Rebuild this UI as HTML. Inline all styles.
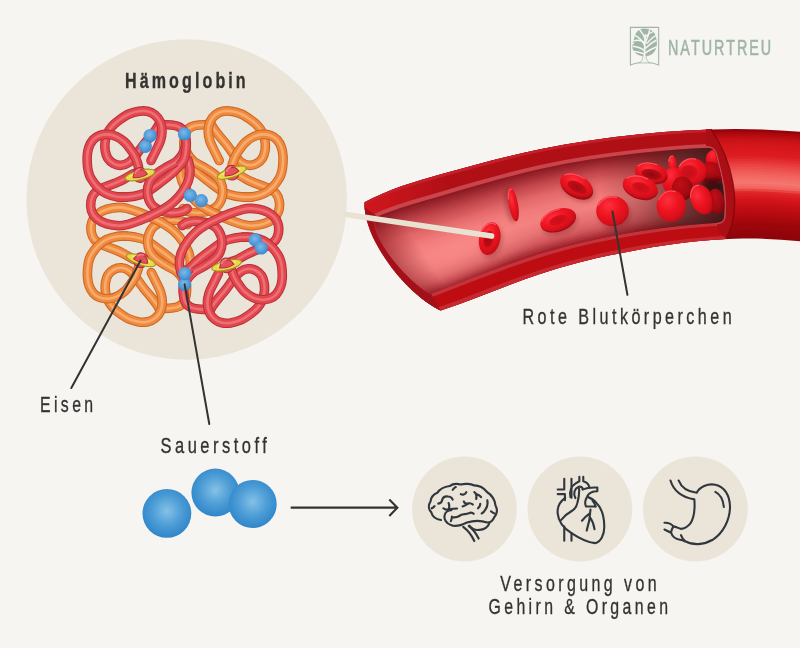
<!DOCTYPE html>
<html lang="de">
<head>
<meta charset="utf-8">
<title>Hämoglobin</title>
<style>
html,body{margin:0;padding:0;background:#f7f5f1;}
body{width:800px;height:648px;overflow:hidden;font-family:"Liberation Sans",sans-serif;}
svg{display:block;}
text{font-family:"Liberation Sans",sans-serif;fill:#333;}
</style>
</head>
<body>
<svg width="800" height="648" viewBox="0 0 800 648">
<defs>
<radialGradient id="gBlue" cx="0.5" cy="0.45" r="0.55">
<stop offset="0" stop-color="#86c1e6"/>
<stop offset="0.55" stop-color="#4d9dd6"/>
<stop offset="1" stop-color="#2f86c9"/>
</radialGradient>
</defs>
<rect width="800" height="648" fill="#f7f5f1"/>

<!-- big circle -->
<circle cx="186.7" cy="199.5" r="160.3" fill="#ebe4d9"/>

<!-- VESSEL -->
<!--VESSEL-START-->
<defs>
<clipPath id="cVes"><path d="M364.5 207.0C366.9 244.6 407.3 294.5 440.5 310.6L441 400L830 400L830 0L364 0Z"/></clipPath>
<clipPath id="cCut"><path d="M364.5 207.0C366.9 244.6 407.3 294.5 440.5 310.6L441 400L726.2 238.6C743.8 204.4 731.5 159.5 711.0 129.2L711 0L364 0Z"/></clipPath>
<clipPath id="cLumX"><path d="M376.0 215.5C368.5 238.2 412.6 285.5 431.0 293.6L431 400L717 400L717 223Q724 222.3 724.2 216.0C726.4 192.6 721.3 177.2 716.0 155.0Q713.5 147 706 147.6L706 0L376 0Z"/></clipPath>
<clipPath id="cLumY"><path d="M340.0 236.2C373.3 214.3 406.7 205.7 440.0 196.2C473.3 186.8 506.7 176.5 540.0 168.9C573.3 161.4 606.7 156.7 640.0 153.0C671.7 149.6 703.3 147.2 735.0 147.1C766.7 147.1 798.3 149.5 830.0 151.0L830.0 222.0C798.3 221.1 766.7 220.6 735.0 221.9C703.3 223.2 671.7 226.2 640.0 231.2C606.7 236.4 573.3 243.6 540.0 253.8C506.7 264.1 473.3 277.3 440.0 290.2C406.7 303.0 373.3 315.5 340.0 328.0Z"/></clipPath>
<linearGradient id="gTun" gradientUnits="userSpaceOnUse" x1="600" y1="0" x2="726" y2="0"><stop offset="0" stop-color="#4a1316" stop-opacity="0"/><stop offset="0.35" stop-color="#4a1316" stop-opacity="0.3"/><stop offset="0.65" stop-color="#48201f" stop-opacity="0.7"/><stop offset="1" stop-color="#3a1315" stop-opacity="0.93"/></linearGradient>
<linearGradient id="gEndSh" gradientUnits="userSpaceOnUse" x1="383" y1="250" x2="410" y2="232"><stop offset="0" stop-color="#7a0e15" stop-opacity="0.5"/><stop offset="1" stop-color="#7a0e15" stop-opacity="0"/></linearGradient>
<radialGradient id="gLumHi" cx="0.5" cy="0.5" r="0.5"><stop offset="0" stop-color="#ff918d" stop-opacity="0.6"/><stop offset="1" stop-color="#ff918d" stop-opacity="0"/></radialGradient>
<linearGradient id="gFaceT" gradientUnits="userSpaceOnUse" x1="366" y1="0" x2="450" y2="0"><stop offset="0" stop-color="#d0161d"/><stop offset="1" stop-color="#b00f16"/></linearGradient>
</defs>
<g clip-path="url(#cVes)">
<path d="M340.0 217.4C373.3 193.7 406.7 184.0 440.0 174.6C473.3 165.2 506.7 156.2 540.0 149.3C573.3 142.4 606.7 137.7 640.0 134.3C671.7 131.1 703.3 129.0 735.0 129.0C766.7 128.9 798.3 131.0 830.0 135.2L830.0 139.2C798.3 135.0 766.7 132.9 735.0 133.0C703.3 133.0 671.7 135.2 640.0 138.5C606.7 142.0 573.3 146.8 540.0 153.9C506.7 160.9 473.3 170.1 440.0 179.5C406.7 189.0 373.3 198.6 340.0 221.9Z" fill="#95030b"/>
<path d="M340.0 220.3C373.3 196.8 406.7 187.1 440.0 177.7C473.3 168.3 506.7 159.1 540.0 152.2C573.3 145.2 606.7 140.4 640.0 136.9C671.7 133.6 703.3 131.5 735.0 131.5C766.7 131.4 798.3 133.5 830.0 137.7L830.0 141.8C798.3 137.4 766.7 135.4 735.0 135.5C703.3 135.5 671.7 137.7 640.0 141.1C606.7 144.7 573.3 149.6 540.0 156.7C506.7 163.8 473.3 173.2 440.0 182.6C406.7 192.1 373.3 201.7 340.0 224.7Z" fill="#a8080e"/>
<path d="M340.0 223.1C373.3 199.8 406.7 190.2 440.0 180.8C473.3 171.3 506.7 162.1 540.0 155.0C573.3 147.9 606.7 143.1 640.0 139.5C671.7 136.2 703.3 134.0 735.0 134.0C766.7 133.9 798.3 136.0 830.0 140.2L830.0 144.3C798.3 139.9 766.7 137.9 735.0 137.9C703.3 138.0 671.7 140.3 640.0 143.7C606.7 147.4 573.3 152.3 540.0 159.5C506.7 166.7 473.3 176.2 440.0 185.7C406.7 195.2 373.3 204.8 340.0 227.5Z" fill="#b50c12"/>
<path d="M340.0 225.9C373.3 202.9 406.7 193.4 440.0 183.9C473.3 174.4 506.7 165.0 540.0 157.8C573.3 150.7 606.7 145.8 640.0 142.2C671.7 138.8 703.3 136.5 735.0 136.5C766.7 136.4 798.3 138.4 830.0 142.8L830.0 146.8C798.3 142.4 766.7 140.3 735.0 140.4C703.3 140.6 671.7 142.9 640.0 146.3C606.7 150.0 573.3 155.0 540.0 162.4C506.7 169.7 473.3 179.3 440.0 188.8C406.7 198.4 373.3 207.8 340.0 230.3Z" fill="#c01015"/>
<path d="M340.0 228.7C373.3 206.0 406.7 196.5 440.0 187.0C473.3 177.5 506.7 167.9 540.0 160.7C573.3 153.4 606.7 148.4 640.0 144.8C671.7 141.3 703.3 139.0 735.0 138.9C766.7 138.8 798.3 140.9 830.0 145.3L830.0 149.3C798.3 144.9 766.7 142.8 735.0 142.9C703.3 143.1 671.7 145.4 640.0 149.0C606.7 152.7 573.3 157.8 540.0 165.2C506.7 172.6 473.3 182.4 440.0 191.9C406.7 201.5 373.3 210.9 340.0 233.1Z" fill="#c81318"/>
<path d="M340.0 231.5C373.3 209.1 406.7 199.6 440.0 190.1C473.3 180.5 506.7 170.8 540.0 163.5C573.3 156.1 606.7 151.1 640.0 147.4C671.7 143.9 703.3 141.6 735.0 141.4C766.7 141.3 798.3 143.4 830.0 147.8L830.0 151.8C798.3 147.4 766.7 145.3 735.0 145.4C703.3 145.6 671.7 148.0 640.0 151.6C606.7 155.4 573.3 160.5 540.0 168.0C506.7 175.5 473.3 185.4 440.0 195.0C406.7 204.6 373.3 214.0 340.0 235.9Z" fill="#d0151a"/>
<path d="M340.0 234.3C373.3 212.1 406.7 202.8 440.0 193.2C473.3 183.6 506.7 173.8 540.0 166.3C573.3 158.9 606.7 153.8 640.0 150.0C671.7 146.4 703.3 144.1 735.0 143.9C766.7 143.8 798.3 145.9 830.0 150.3L830.0 154.3C798.3 149.8 766.7 147.8 735.0 147.9C703.3 148.1 671.7 150.5 640.0 154.2C606.7 158.0 573.3 163.2 540.0 170.9C506.7 178.5 473.3 188.5 440.0 198.1C406.7 207.8 373.3 217.1 340.0 238.7Z" fill="#d4171c"/>
<path d="M340.0 237.1C373.3 215.2 406.7 205.9 440.0 196.3C473.3 186.6 506.7 176.7 540.0 169.2C573.3 161.6 606.7 156.4 640.0 152.6C671.7 149.0 703.3 146.6 735.0 146.4C766.7 146.3 798.3 148.4 830.0 152.8L830.0 156.8C798.3 152.3 766.7 150.2 735.0 150.4C703.3 150.6 671.7 153.1 640.0 156.8C606.7 160.7 573.3 166.0 540.0 173.7C506.7 181.4 473.3 191.5 440.0 201.2C406.7 210.9 373.3 220.1 340.0 241.5Z" fill="#d6181d"/>
<path d="M340.0 239.9C373.3 218.3 406.7 209.0 440.0 199.4C473.3 189.7 506.7 179.6 540.0 172.0C573.3 164.3 606.7 159.1 640.0 155.2C671.7 151.6 703.3 149.1 735.0 148.9C766.7 148.8 798.3 150.8 830.0 155.3L830.0 159.3C798.3 154.8 766.7 152.7 735.0 152.9C703.3 153.2 671.7 155.7 640.0 159.4C606.7 163.4 573.3 168.7 540.0 176.5C506.7 184.3 473.3 194.6 440.0 204.3C406.7 214.0 373.3 223.2 340.0 244.3Z" fill="#d8191e"/>
<path d="M340.0 242.7C373.3 221.4 406.7 212.2 440.0 202.5C473.3 192.8 506.7 182.6 540.0 174.8C573.3 167.1 606.7 161.8 640.0 157.9C671.7 154.1 703.3 151.6 735.0 151.4C766.7 151.2 798.3 153.3 830.0 157.8L830.0 161.8C798.3 157.3 766.7 155.2 735.0 155.4C703.3 155.7 671.7 158.2 640.0 162.0C606.7 166.1 573.3 171.5 540.0 179.4C506.7 187.3 473.3 197.6 440.0 207.4C406.7 217.2 373.3 226.3 340.0 247.1Z" fill="#da1b1f"/>
<path d="M340.0 245.5C373.3 224.5 406.7 215.3 440.0 205.6C473.3 195.8 506.7 185.5 540.0 177.7C573.3 169.8 606.7 164.5 640.0 160.5C671.7 156.7 703.3 154.2 735.0 153.9C766.7 153.7 798.3 155.8 830.0 160.3L830.0 164.3C798.3 159.8 766.7 157.7 735.0 157.9C703.3 158.2 671.7 160.8 640.0 164.7C606.7 168.7 573.3 174.2 540.0 182.2C506.7 190.2 473.3 200.7 440.0 210.5C406.7 220.3 373.3 229.4 340.0 249.9Z" fill="#dc1c20"/>
<path d="M340.0 248.3C373.3 227.5 406.7 218.4 440.0 208.7C473.3 198.9 506.7 188.4 540.0 180.5C573.3 172.6 606.7 167.1 640.0 163.1C671.7 159.3 703.3 156.7 735.0 156.4C766.7 156.2 798.3 158.3 830.0 162.8L830.0 166.8C798.3 162.2 766.7 160.1 735.0 160.4C703.3 160.7 671.7 163.4 640.0 167.3C606.7 171.4 573.3 176.9 540.0 185.0C506.7 193.1 473.3 203.8 440.0 213.6C406.7 223.4 373.3 232.5 340.0 252.7Z" fill="#df2528"/>
<path d="M340.0 251.1C373.3 230.6 406.7 221.6 440.0 211.7C473.3 201.9 506.7 191.4 540.0 183.3C573.3 175.3 606.7 169.8 640.0 165.7C671.7 161.8 703.3 159.2 735.0 158.9C766.7 158.7 798.3 160.8 830.0 165.3L830.0 169.4C798.3 164.7 766.7 162.6 735.0 162.9C703.3 163.2 671.7 165.9 640.0 169.9C606.7 174.1 573.3 179.7 540.0 187.9C506.7 196.0 473.3 206.8 440.0 216.7C406.7 226.6 373.3 235.5 340.0 255.6Z" fill="#e32f31"/>
<path d="M340.0 253.9C373.3 233.7 406.7 224.7 440.0 214.8C473.3 205.0 506.7 194.3 540.0 186.2C573.3 178.0 606.7 172.5 640.0 168.3C671.7 164.4 703.3 161.7 735.0 161.4C766.7 161.1 798.3 163.2 830.0 167.8L830.0 171.9C798.3 167.2 766.7 165.1 735.0 165.4C703.3 165.7 671.7 168.5 640.0 172.5C606.7 176.7 573.3 182.4 540.0 190.7C506.7 199.0 473.3 209.9 440.0 219.8C406.7 229.7 373.3 238.6 340.0 258.4Z" fill="#e7393a"/>
<path d="M340.0 256.7C373.3 236.8 406.7 227.8 440.0 217.9C473.3 208.0 506.7 197.2 540.0 189.0C573.3 180.8 606.7 175.1 640.0 170.9C671.7 166.9 703.3 164.2 735.0 163.9C766.7 163.6 798.3 165.7 830.0 170.4L830.0 174.4C798.3 169.7 766.7 167.6 735.0 167.9C703.3 168.3 671.7 171.1 640.0 175.1C606.7 179.4 573.3 185.1 540.0 193.5C506.7 201.9 473.3 212.9 440.0 222.9C406.7 232.8 373.3 241.7 340.0 261.2Z" fill="#ea4342"/>
<path d="M340.0 259.5C373.3 239.8 406.7 231.0 440.0 221.0C473.3 211.1 506.7 200.1 540.0 191.8C573.3 183.5 606.7 177.8 640.0 173.6C671.7 169.5 703.3 166.7 735.0 166.4C766.7 166.1 798.3 168.2 830.0 172.9L830.0 176.9C798.3 172.2 766.7 170.1 735.0 170.4C703.3 170.8 671.7 173.6 640.0 177.7C606.7 182.1 573.3 187.9 540.0 196.4C506.7 204.8 473.3 216.0 440.0 226.0C406.7 236.0 373.3 244.8 340.0 264.0Z" fill="#ec4c4a"/>
<path d="M340.0 262.3C373.3 242.9 406.7 234.1 440.0 224.1C473.3 214.2 506.7 203.1 540.0 194.7C573.3 186.2 606.7 180.5 640.0 176.2C671.7 172.1 703.3 169.3 735.0 168.9C766.7 168.6 798.3 170.7 830.0 175.4L830.0 179.4C798.3 174.6 766.7 172.5 735.0 172.9C703.3 173.3 671.7 176.2 640.0 180.4C606.7 184.8 573.3 190.6 540.0 199.2C506.7 207.8 473.3 219.1 440.0 229.1C406.7 239.1 373.3 247.8 340.0 266.8Z" fill="#ee5552"/>
<path d="M340.0 265.1C373.3 246.0 406.7 237.2 440.0 227.2C473.3 217.2 506.7 206.0 540.0 197.5C573.3 189.0 606.7 183.2 640.0 178.8C671.7 174.6 703.3 171.8 735.0 171.4C766.7 171.0 798.3 173.1 830.0 177.9L830.0 181.9C798.3 177.1 766.7 175.0 735.0 175.4C703.3 175.8 671.7 178.7 640.0 183.0C606.7 187.4 573.3 193.4 540.0 202.0C506.7 210.7 473.3 222.1 440.0 232.2C406.7 242.2 373.3 250.9 340.0 269.6Z" fill="#f05e59"/>
<path d="M340.0 267.9C373.3 249.1 406.7 240.4 440.0 230.3C473.3 220.3 506.7 208.9 540.0 200.3C573.3 191.7 606.7 185.8 640.0 181.4C671.7 177.2 703.3 174.3 735.0 173.9C766.7 173.5 798.3 175.6 830.0 180.4L830.0 184.4C798.3 179.6 766.7 177.5 735.0 177.9C703.3 178.3 671.7 181.3 640.0 185.6C606.7 190.1 573.3 196.1 540.0 204.9C506.7 213.6 473.3 225.2 440.0 235.3C406.7 245.4 373.3 254.0 340.0 272.4Z" fill="#f1645f"/>
<path d="M340.0 270.7C373.3 252.2 406.7 243.5 440.0 233.4C473.3 223.3 506.7 211.9 540.0 203.2C573.3 194.4 606.7 188.5 640.0 184.0C671.7 179.8 703.3 176.8 735.0 176.4C766.7 176.0 798.3 178.1 830.0 182.9L830.0 186.9C798.3 182.1 766.7 180.0 735.0 180.4C703.3 180.9 671.7 183.9 640.0 188.2C606.7 192.8 573.3 198.8 540.0 207.7C506.7 216.6 473.3 228.2 440.0 238.4C406.7 248.5 373.3 257.1 340.0 275.2Z" fill="#f26b64"/>
<path d="M340.0 273.5C373.3 255.2 406.7 246.6 440.0 236.5C473.3 226.4 506.7 214.8 540.0 206.0C573.3 197.2 606.7 191.2 640.0 186.6C671.7 182.3 703.3 179.3 735.0 178.9C766.7 178.5 798.3 180.6 830.0 185.4L830.0 189.4C798.3 184.6 766.7 182.4 735.0 182.9C703.3 183.4 671.7 186.4 640.0 190.8C606.7 195.5 573.3 201.6 540.0 210.5C506.7 219.5 473.3 231.3 440.0 241.5C406.7 251.6 373.3 260.2 340.0 278.0Z" fill="#f37169"/>
<path d="M340.0 276.3C373.3 258.3 406.7 249.8 440.0 239.6C473.3 229.5 506.7 217.7 540.0 208.8C573.3 199.9 606.7 193.9 640.0 189.3C671.7 184.9 703.3 181.9 735.0 181.4C766.7 180.9 798.3 183.1 830.0 187.9L830.0 191.9C798.3 187.0 766.7 184.9 735.0 185.4C703.3 185.9 671.7 189.0 640.0 193.4C606.7 198.1 573.3 204.3 540.0 213.4C506.7 222.4 473.3 234.4 440.0 244.6C406.7 254.8 373.3 263.2 340.0 280.8Z" fill="#f4776f"/>
<path d="M340.0 279.1C373.3 261.4 406.7 252.9 440.0 242.7C473.3 232.5 506.7 220.7 540.0 211.7C573.3 202.7 606.7 196.5 640.0 191.9C671.7 187.5 703.3 184.4 735.0 183.9C766.7 183.4 798.3 185.5 830.0 190.4L830.0 194.4C798.3 189.5 766.7 187.4 735.0 187.9C703.3 188.4 671.7 191.6 640.0 196.1C606.7 200.8 573.3 207.0 540.0 216.2C506.7 225.3 473.3 237.4 440.0 247.7C406.7 257.9 373.3 266.3 340.0 283.6Z" fill="#f36e67"/>
<path d="M340.0 281.9C373.3 264.5 406.7 256.0 440.0 245.8C473.3 235.6 506.7 223.6 540.0 214.5C573.3 205.4 606.7 199.2 640.0 194.5C671.7 190.0 703.3 186.9 735.0 186.4C766.7 185.9 798.3 188.0 830.0 192.9L830.0 197.0C798.3 192.0 766.7 189.9 735.0 190.4C703.3 190.9 671.7 194.1 640.0 198.7C606.7 203.5 573.3 209.8 540.0 219.0C506.7 228.3 473.3 240.5 440.0 250.8C406.7 261.0 373.3 269.4 340.0 286.4Z" fill="#f1645e"/>
<path d="M340.0 284.7C373.3 267.5 406.7 259.2 440.0 248.9C473.3 238.6 506.7 226.5 540.0 217.3C573.3 208.1 606.7 201.9 640.0 197.1C671.7 192.6 703.3 189.4 735.0 188.9C766.7 188.4 798.3 190.5 830.0 195.5L830.0 199.5C798.3 194.5 766.7 192.3 735.0 192.9C703.3 193.4 671.7 196.7 640.0 201.3C606.7 206.1 573.3 212.5 540.0 221.9C506.7 231.2 473.3 243.5 440.0 253.9C406.7 264.2 373.3 272.5 340.0 289.2Z" fill="#ea4543"/>
<path d="M340.0 287.5C373.3 270.6 406.7 262.3 440.0 252.0C473.3 241.7 506.7 229.4 540.0 220.2C573.3 210.9 606.7 204.5 640.0 199.7C671.7 195.1 703.3 191.9 735.0 191.4C766.7 190.9 798.3 193.0 830.0 198.0L830.0 202.0C798.3 196.9 766.7 194.8 735.0 195.4C703.3 196.0 671.7 199.2 640.0 203.9C606.7 208.8 573.3 215.2 540.0 224.7C506.7 234.1 473.3 246.6 440.0 256.9C406.7 267.3 373.3 275.5 340.0 292.0Z" fill="#e12528"/>
<path d="M340.0 290.3C373.3 273.7 406.7 265.4 440.0 255.1C473.3 244.8 506.7 232.4 540.0 223.0C573.3 213.6 606.7 207.2 640.0 202.3C671.7 197.7 703.3 194.5 735.0 193.9C766.7 193.3 798.3 195.5 830.0 200.5L830.0 204.5C798.3 199.4 766.7 197.3 735.0 197.9C703.3 198.5 671.7 201.8 640.0 206.5C606.7 211.5 573.3 218.0 540.0 227.5C506.7 237.1 473.3 249.7 440.0 260.0C406.7 270.4 373.3 278.6 340.0 294.8Z" fill="#dc1f23"/>
<path d="M340.0 293.1C373.3 276.8 406.7 268.6 440.0 258.2C473.3 247.8 506.7 235.3 540.0 225.8C573.3 216.3 606.7 209.9 640.0 205.0C671.7 200.3 703.3 197.0 735.0 196.4C766.7 195.8 798.3 197.9 830.0 203.0L830.0 207.0C798.3 201.9 766.7 199.8 735.0 200.4C703.3 201.0 671.7 204.4 640.0 209.1C606.7 214.2 573.3 220.7 540.0 230.4C506.7 240.0 473.3 252.7 440.0 263.1C406.7 273.6 373.3 281.7 340.0 297.6Z" fill="#d7191e"/>
<path d="M340.0 295.9C373.3 279.9 406.7 271.7 440.0 261.3C473.3 250.9 506.7 238.2 540.0 228.7C573.3 219.1 606.7 212.6 640.0 207.6C671.7 202.8 703.3 199.5 735.0 198.9C766.7 198.3 798.3 200.4 830.0 205.5L830.0 209.5C798.3 204.4 766.7 202.2 735.0 202.9C703.3 203.5 671.7 206.9 640.0 211.8C606.7 216.8 573.3 223.5 540.0 233.2C506.7 242.9 473.3 255.8 440.0 266.2C406.7 276.7 373.3 284.8 340.0 300.4Z" fill="#d2141a"/>
<path d="M340.0 298.7C373.3 282.9 406.7 274.8 440.0 264.4C473.3 253.9 506.7 241.2 540.0 231.5C573.3 221.8 606.7 215.2 640.0 210.2C671.7 205.4 703.3 202.0 735.0 201.4C766.7 200.8 798.3 202.9 830.0 208.0L830.0 212.0C798.3 206.9 766.7 204.7 735.0 205.4C703.3 206.0 671.7 209.5 640.0 214.4C606.7 219.5 573.3 226.2 540.0 236.0C506.7 245.9 473.3 258.8 440.0 269.3C406.7 279.8 373.3 287.9 340.0 303.2Z" fill="#cd1218"/>
<path d="M340.0 301.5C373.3 286.0 406.7 278.0 440.0 267.5C473.3 257.0 506.7 244.1 540.0 234.3C573.3 224.5 606.7 217.9 640.0 212.8C671.7 208.0 703.3 204.5 735.0 203.9C766.7 203.2 798.3 205.4 830.0 210.5L830.0 214.5C798.3 209.3 766.7 207.2 735.0 207.9C703.3 208.6 671.7 212.1 640.0 217.0C606.7 222.2 573.3 228.9 540.0 238.9C506.7 248.8 473.3 261.9 440.0 272.4C406.7 283.0 373.3 290.9 340.0 306.0Z" fill="#c71016"/>
<path d="M340.0 304.3C373.3 289.1 406.7 281.1 440.0 270.6C473.3 260.1 506.7 247.0 540.0 237.2C573.3 227.3 606.7 220.6 640.0 215.4C671.7 210.5 703.3 207.0 735.0 206.4C766.7 205.7 798.3 207.9 830.0 213.0L830.0 217.0C798.3 211.8 766.7 209.7 735.0 210.4C703.3 211.1 671.7 214.6 640.0 219.6C606.7 224.8 573.3 231.7 540.0 241.7C506.7 251.7 473.3 264.9 440.0 275.5C406.7 286.1 373.3 294.0 340.0 308.8Z" fill="#c20e14"/>
<path d="M340.0 307.1C373.3 292.2 406.7 284.2 440.0 273.7C473.3 263.1 506.7 250.0 540.0 240.0C573.3 230.0 606.7 223.2 640.0 218.0C671.7 213.1 703.3 209.6 735.0 208.9C766.7 208.2 798.3 210.3 830.0 215.5L830.0 219.5C798.3 214.3 766.7 212.1 735.0 212.9C703.3 213.6 671.7 217.2 640.0 222.2C606.7 227.5 573.3 234.4 540.0 244.5C506.7 254.6 473.3 268.0 440.0 278.6C406.7 289.2 373.3 297.1 340.0 311.6Z" fill="#bd0c12"/>
<path d="M340.0 309.9C373.3 295.2 406.7 287.4 440.0 276.8C473.3 266.2 506.7 252.9 540.0 242.8C573.3 232.8 606.7 225.9 640.0 220.7C671.7 215.7 703.3 212.1 735.0 211.4C766.7 210.7 798.3 212.8 830.0 218.0L830.0 222.1C798.3 216.8 766.7 214.6 735.0 215.4C703.3 216.1 671.7 219.8 640.0 224.8C606.7 230.2 573.3 237.1 540.0 247.4C506.7 257.6 473.3 271.1 440.0 281.7C406.7 292.4 373.3 300.2 340.0 314.4Z" fill="#b70b10"/>
<path d="M340.0 312.7C373.3 298.3 406.7 290.5 440.0 279.9C473.3 269.2 506.7 255.8 540.0 245.7C573.3 235.5 606.7 228.6 640.0 223.3C671.7 218.2 703.3 214.6 735.0 213.9C766.7 213.1 798.3 215.3 830.0 220.5L830.0 224.6C798.3 219.3 766.7 217.1 735.0 217.9C703.3 218.6 671.7 222.3 640.0 227.5C606.7 232.9 573.3 239.9 540.0 250.2C506.7 260.5 473.3 274.1 440.0 284.8C406.7 295.5 373.3 303.2 340.0 317.2Z" fill="#b10a0f"/>
<path d="M340.0 315.5C373.3 301.4 406.7 293.6 440.0 283.0C473.3 272.3 506.7 258.7 540.0 248.5C573.3 238.2 606.7 231.3 640.0 225.9C671.7 220.8 703.3 217.1 735.0 216.4C766.7 215.6 798.3 217.8 830.0 223.1L830.0 227.1C798.3 221.7 766.7 219.6 735.0 220.4C703.3 221.1 671.7 224.9 640.0 230.1C606.7 235.5 573.3 242.6 540.0 253.0C506.7 263.4 473.3 277.2 440.0 287.9C406.7 298.6 373.3 306.3 340.0 320.0Z" fill="#ac090e"/>
<path d="M340.0 318.3C373.3 304.5 406.7 296.7 440.0 286.0C473.3 275.3 506.7 261.7 540.0 251.3C573.3 241.0 606.7 233.9 640.0 228.5C671.7 223.3 703.3 219.6 735.0 218.9C766.7 218.1 798.3 220.3 830.0 225.6L830.0 229.6C798.3 224.2 766.7 222.1 735.0 222.9C703.3 223.7 671.7 227.4 640.0 232.7C606.7 238.2 573.3 245.3 540.0 255.9C506.7 266.4 473.3 280.2 440.0 291.0C406.7 301.8 373.3 309.4 340.0 322.8Z" fill="#a6080d"/>
<path d="M340.0 321.1C373.3 307.6 406.7 299.9 440.0 289.1C473.3 278.4 506.7 264.6 540.0 254.2C573.3 243.7 606.7 236.6 640.0 231.1C671.7 225.9 703.3 222.2 735.0 221.4C766.7 220.6 798.3 222.7 830.0 228.1L830.0 232.1C798.3 226.7 766.7 224.5 735.0 225.4C703.3 226.2 671.7 230.0 640.0 235.3C606.7 240.9 573.3 248.1 540.0 258.7C506.7 269.3 473.3 283.3 440.0 294.1C406.7 304.9 373.3 312.5 340.0 325.6Z" fill="#a0070c"/>
<path d="M340.0 323.9C373.3 310.6 406.7 303.0 440.0 292.2C473.3 281.5 506.7 267.5 540.0 257.0C573.3 246.4 606.7 239.3 640.0 233.7C671.7 228.5 703.3 224.7 735.0 223.9C766.7 223.0 798.3 225.2 830.0 230.6L830.0 234.6C798.3 229.2 766.7 227.0 735.0 227.9C703.3 228.7 671.7 232.6 640.0 237.9C606.7 243.6 573.3 250.8 540.0 261.5C506.7 272.2 473.3 286.4 440.0 297.2C406.7 308.0 373.3 315.6 340.0 328.4Z" fill="#9b060b"/>
<path d="M340.0 326.7C373.3 313.7 406.7 306.1 440.0 295.3C473.3 284.5 506.7 270.5 540.0 259.8C573.3 249.2 606.7 241.9 640.0 236.4C671.7 231.0 703.3 227.2 735.0 226.4C766.7 225.5 798.3 227.7 830.0 233.1L830.0 237.1C798.3 231.7 766.7 229.5 735.0 230.4C703.3 231.2 671.7 235.1 640.0 240.5C606.7 246.2 573.3 253.6 540.0 264.4C506.7 275.2 473.3 289.4 440.0 300.3C406.7 311.2 373.3 318.6 340.0 331.2Z" fill="#99060b"/>
<path d="M340.0 329.5C373.3 316.8 406.7 309.3 440.0 298.4C473.3 287.6 506.7 273.4 540.0 262.7C573.3 251.9 606.7 244.6 640.0 239.0C671.7 233.6 703.3 229.7 735.0 228.9C766.7 228.0 798.3 230.2 830.0 235.6L830.0 239.6C798.3 234.1 766.7 232.0 735.0 232.8C703.3 233.7 671.7 237.7 640.0 243.2C606.7 248.9 573.3 256.3 540.0 267.2C506.7 278.1 473.3 292.5 440.0 303.4C406.7 314.3 373.3 321.7 340.0 334.0Z" fill="#96050b"/>
<path d="M340.0 332.3C373.3 319.9 406.7 312.4 440.0 301.5C473.3 290.6 506.7 276.3 540.0 265.5C573.3 254.7 606.7 247.3 640.0 241.6C671.7 236.2 703.3 232.2 735.0 231.4C766.7 230.5 798.3 232.6 830.0 238.1L830.0 242.1C798.3 236.6 766.7 234.4 735.0 235.3C703.3 236.3 671.7 240.3 640.0 245.8C606.7 251.6 573.3 259.0 540.0 270.0C506.7 281.0 473.3 295.5 440.0 306.5C406.7 317.4 373.3 324.8 340.0 336.8Z" fill="#93050a"/>
<path d="M340.0 335.1C373.3 322.9 406.7 315.5 440.0 304.6C473.3 293.7 506.7 279.3 540.0 268.3C573.3 257.4 606.7 250.0 640.0 244.2C671.7 238.7 703.3 234.7 735.0 233.8C766.7 232.9 798.3 235.1 830.0 240.6L830.0 244.6C798.3 239.1 766.7 236.9 735.0 237.8C703.3 238.8 671.7 242.8 640.0 248.4C606.7 254.2 573.3 261.8 540.0 272.9C506.7 283.9 473.3 298.6 440.0 309.6C406.7 320.6 373.3 327.9 340.0 339.6Z" fill="#90050a"/>
<path d="M340.0 337.9C373.3 326.0 406.7 318.7 440.0 307.7C473.3 296.8 506.7 282.2 540.0 271.2C573.3 260.1 606.7 252.6 640.0 246.8C671.7 241.3 703.3 237.3 735.0 236.3C766.7 235.4 798.3 237.6 830.0 243.1L830.0 245.6C798.3 240.1 766.7 237.9 735.0 238.8C703.3 239.8 671.7 243.9 640.0 249.4C606.7 255.3 573.3 262.9 540.0 274.0C506.7 285.1 473.3 299.8 440.0 310.8C406.7 321.8 373.3 329.1 340.0 340.7Z" fill="#8d040a"/>
</g>
<g clip-path="url(#cCut)">
<path d="M340.0 217.4C373.3 193.7 406.7 184.0 440.0 174.6C473.3 165.2 506.7 156.2 540.0 149.3C573.3 142.4 606.7 137.7 640.0 134.3C671.7 131.1 703.3 129.0 735.0 129.0C766.7 128.9 798.3 131.0 830.0 135.2L830.0 151.0C798.3 149.5 766.7 147.1 735.0 147.1C703.3 147.2 671.7 149.6 640.0 153.0C606.7 156.7 573.3 161.4 540.0 168.9C506.7 176.5 473.3 186.8 440.0 196.2C406.7 205.7 373.3 214.3 340.0 236.2Z" fill="url(#gFaceT)"/>
<path d="M340.0 217.4C373.3 193.7 406.7 184.0 440.0 174.6C473.3 165.2 506.7 156.2 540.0 149.3C573.3 142.4 606.7 137.7 640.0 134.3C671.7 131.1 703.3 129.0 735.0 129.0C766.7 128.9 798.3 131.0 830.0 135.2L830.0 137.4C798.3 133.6 766.7 131.5 735.0 131.5C703.3 131.5 671.7 133.7 640.0 136.9C606.7 140.4 573.3 145.1 540.0 152.1C506.7 159.0 473.3 168.2 440.0 177.6C406.7 187.0 373.3 196.6 340.0 220.1Z" fill="#c5202a"/>
<path d="M340.0 232.5C373.3 210.1 406.7 201.3 440.0 191.9C473.3 182.5 506.7 172.4 540.0 165.0C573.3 157.6 606.7 152.9 640.0 149.3C671.7 145.9 703.3 143.5 735.0 143.5C766.7 143.5 798.3 145.8 830.0 147.8L830.0 151.0C798.3 149.5 766.7 147.1 735.0 147.1C703.3 147.2 671.7 149.6 640.0 153.0C606.7 156.7 573.3 161.4 540.0 168.9C506.7 176.5 473.3 186.8 440.0 196.2C406.7 205.7 373.3 214.3 340.0 236.2Z" fill="#c8454b"/>
<path d="M340.0 328.0C373.3 315.5 406.7 303.0 440.0 290.2C473.3 277.3 506.7 264.1 540.0 253.8C573.3 243.6 606.7 236.4 640.0 231.2C671.7 226.2 703.3 223.2 735.0 221.9C766.7 220.6 798.3 221.1 830.0 222.0L830.0 245.6C798.3 240.1 766.7 237.9 735.0 238.8C703.3 239.8 671.7 243.9 640.0 249.4C606.7 255.3 573.3 262.9 540.0 274.0C506.7 285.1 473.3 299.8 440.0 310.8C406.7 321.8 373.3 329.1 340.0 340.7Z" fill="#bd0c12"/>
<path d="M340.0 328.0C373.3 315.5 406.7 303.0 440.0 290.2C473.3 277.3 506.7 264.1 540.0 253.8C573.3 243.6 606.7 236.4 640.0 231.2C671.7 226.2 703.3 223.2 735.0 221.9C766.7 220.6 798.3 221.1 830.0 222.0L830.0 226.3C798.3 224.5 766.7 223.7 735.0 224.9C703.3 226.1 671.7 229.4 640.0 234.5C606.7 239.8 573.3 247.0 540.0 257.4C506.7 267.9 473.3 281.4 440.0 293.9C406.7 306.4 373.3 317.9 340.0 330.3Z" fill="#c3333b"/>
<path d="M340.0 338.2C373.3 326.4 406.7 318.1 440.0 306.7C473.3 295.3 506.7 280.9 540.0 270.0C573.3 259.0 606.7 251.5 640.0 245.8C671.7 240.3 703.3 236.5 735.0 235.5C766.7 234.4 798.3 236.3 830.0 240.9L830.0 245.6C798.3 240.1 766.7 237.9 735.0 238.8C703.3 239.8 671.7 243.9 640.0 249.4C606.7 255.3 573.3 262.9 540.0 274.0C506.7 285.1 473.3 299.8 440.0 310.8C406.7 321.8 373.3 329.1 340.0 340.7Z" fill="#c62a30"/>
<path d="M364.5 207.0C366.9 244.6 407.3 294.5 440.5 310.6L431.0 293.6C412.6 285.5 368.5 238.2 376.0 215.5Z" fill="#a0111a"/>
<path d="M376.0 215.5C368.5 238.2 412.6 285.5 431.0 293.6" fill="none" stroke="#c0272f" stroke-width="1.6"/>
<path d="M711.0 129.2C731.5 159.5 743.8 204.4 726.2 238.6L717 230L717 223Q724 222.3 724.2 216.0C726.4 192.6 721.3 177.2 716.0 155.0Q713.5 147 706 147.6L706 129Z" fill="#ab0e15"/>
<path d="M706 147.6Q713.5 147 716.0 155.0C721.3 177.2 726.4 192.6 724.2 216.0Q724 222.3 717 223" fill="none" stroke="#c8454b" stroke-width="3"/>
</g>
<g clip-path="url(#cLumX)"><g clip-path="url(#cLumY)">
<path d="M340.0 236.2C373.3 214.3 406.7 205.7 440.0 196.2C473.3 186.8 506.7 176.5 540.0 168.9C573.3 161.4 606.7 156.7 640.0 153.0C671.7 149.6 703.3 147.2 735.0 147.1C766.7 147.1 798.3 149.5 830.0 151.0L830.0 154.1C798.3 152.6 766.7 150.4 735.0 150.4C703.3 150.5 671.7 153.0 640.0 156.5C606.7 160.2 573.3 165.1 540.0 172.7C506.7 180.4 473.3 190.8 440.0 200.4C406.7 210.0 373.3 218.8 340.0 240.3Z" fill="#8c1c23"/>
<path d="M340.0 238.8C373.3 217.1 406.7 208.4 440.0 198.8C473.3 189.3 506.7 178.9 540.0 171.3C573.3 163.7 606.7 158.9 640.0 155.2C671.7 151.7 703.3 149.3 735.0 149.2C766.7 149.1 798.3 151.5 830.0 152.9L830.0 156.1C798.3 154.6 766.7 152.4 735.0 152.5C703.3 152.6 671.7 155.1 640.0 158.7C606.7 162.4 573.3 167.4 540.0 175.1C506.7 182.8 473.3 193.3 440.0 203.0C406.7 212.7 373.3 221.6 340.0 242.8Z" fill="#96232a"/>
<path d="M340.0 241.3C373.3 219.9 406.7 211.1 440.0 201.4C473.3 191.8 506.7 181.3 540.0 173.7C573.3 166.0 606.7 161.1 640.0 157.4C671.7 153.8 703.3 151.4 735.0 151.3C766.7 151.2 798.3 153.4 830.0 154.9L830.0 158.1C798.3 156.6 766.7 154.4 735.0 154.6C703.3 154.8 671.7 157.3 640.0 160.9C606.7 164.6 573.3 169.6 540.0 177.4C506.7 185.2 473.3 195.8 440.0 205.6C406.7 215.4 373.3 224.4 340.0 245.4Z" fill="#a02a31"/>
<path d="M340.0 243.9C373.3 222.7 406.7 213.8 440.0 204.0C473.3 194.3 506.7 183.8 540.0 176.0C573.3 168.3 606.7 163.3 640.0 159.5C671.7 156.0 703.3 153.5 735.0 153.4C766.7 153.2 798.3 155.4 830.0 156.9L830.0 160.1C798.3 158.6 766.7 156.5 735.0 156.7C703.3 156.9 671.7 159.4 640.0 163.0C606.7 166.9 573.3 171.9 540.0 179.8C506.7 187.7 473.3 198.3 440.0 208.2C406.7 218.1 373.3 227.2 340.0 247.9Z" fill="#a93138"/>
<path d="M340.0 246.4C373.3 225.5 406.7 216.5 440.0 206.6C473.3 196.8 506.7 186.2 540.0 178.4C573.3 170.5 606.7 165.5 640.0 161.7C671.7 158.1 703.3 155.6 735.0 155.4C766.7 155.3 798.3 157.4 830.0 158.9L830.0 162.0C798.3 160.6 766.7 158.5 735.0 158.8C703.3 159.0 671.7 161.5 640.0 165.2C606.7 169.1 573.3 174.2 540.0 182.1C506.7 190.1 473.3 200.8 440.0 210.8C406.7 220.8 373.3 230.0 340.0 250.5Z" fill="#b2393f"/>
<path d="M340.0 249.0C373.3 228.3 406.7 219.2 440.0 209.3C473.3 199.3 506.7 188.6 540.0 180.7C573.3 172.8 606.7 167.7 640.0 163.9C671.7 160.2 703.3 157.7 735.0 157.5C766.7 157.3 798.3 159.4 830.0 160.8L830.0 164.0C798.3 162.6 766.7 160.6 735.0 160.8C703.3 161.1 671.7 163.6 640.0 167.4C606.7 171.3 573.3 176.5 540.0 184.5C506.7 192.5 473.3 203.4 440.0 213.4C406.7 223.5 373.3 232.8 340.0 253.0Z" fill="#bb4146"/>
<path d="M340.0 251.5C373.3 231.1 406.7 221.9 440.0 211.9C473.3 201.9 506.7 191.1 540.0 183.1C573.3 175.1 606.7 169.9 640.0 166.1C671.7 162.4 703.3 159.8 735.0 159.6C766.7 159.3 798.3 161.4 830.0 162.8L830.0 166.0C798.3 164.6 766.7 162.6 735.0 162.9C703.3 163.2 671.7 165.8 640.0 169.5C606.7 173.5 573.3 178.8 540.0 186.9C506.7 195.0 473.3 205.9 440.0 216.0C406.7 226.2 373.3 235.6 340.0 255.6Z" fill="#c4484d"/>
<path d="M340.0 254.1C373.3 233.9 406.7 224.6 440.0 214.5C473.3 204.4 506.7 193.5 540.0 185.4C573.3 177.4 606.7 172.2 640.0 168.2C671.7 164.5 703.3 161.9 735.0 161.7C766.7 161.4 798.3 163.4 830.0 164.8L830.0 168.0C798.3 166.6 766.7 164.7 735.0 165.0C703.3 165.3 671.7 167.9 640.0 171.7C606.7 175.7 573.3 181.0 540.0 189.2C506.7 197.4 473.3 208.4 440.0 218.7C406.7 228.9 373.3 238.4 340.0 258.1Z" fill="#ca4e53"/>
<path d="M340.0 256.6C373.3 236.8 406.7 227.3 440.0 217.1C473.3 206.9 506.7 195.9 540.0 187.8C573.3 179.7 606.7 174.4 640.0 170.4C671.7 166.6 703.3 164.0 735.0 163.7C766.7 163.4 798.3 165.4 830.0 166.8L830.0 169.9C798.3 168.6 766.7 166.7 735.0 167.1C703.3 167.4 671.7 170.0 640.0 173.9C606.7 177.9 573.3 183.3 540.0 191.6C506.7 199.8 473.3 210.9 440.0 221.3C406.7 231.6 373.3 241.3 340.0 260.7Z" fill="#d05559"/>
<path d="M340.0 259.2C373.3 239.6 406.7 230.0 440.0 219.7C473.3 209.4 506.7 198.4 540.0 190.2C573.3 182.0 606.7 176.6 640.0 172.6C671.7 168.8 703.3 166.2 735.0 165.8C766.7 165.5 798.3 167.4 830.0 168.7L830.0 171.9C798.3 170.6 766.7 168.7 735.0 169.1C703.3 169.5 671.7 172.2 640.0 176.0C606.7 180.1 573.3 185.6 540.0 193.9C506.7 202.3 473.3 213.4 440.0 223.9C406.7 234.3 373.3 244.1 340.0 263.2Z" fill="#d75b5e"/>
<path d="M340.0 261.7C373.3 242.4 406.7 232.7 440.0 222.3C473.3 211.9 506.7 200.8 540.0 192.5C573.3 184.2 606.7 178.8 640.0 174.7C671.7 170.9 703.3 168.3 735.0 167.9C766.7 167.5 798.3 169.4 830.0 170.7L830.0 173.9C798.3 172.6 766.7 170.8 735.0 171.2C703.3 171.6 671.7 174.3 640.0 178.2C606.7 182.3 573.3 187.9 540.0 196.3C506.7 204.7 473.3 215.9 440.0 226.5C406.7 237.0 373.3 246.9 340.0 265.8Z" fill="#dd6264"/>
<path d="M340.0 264.3C373.3 245.2 406.7 235.4 440.0 224.9C473.3 214.4 506.7 203.2 540.0 194.9C573.3 186.5 606.7 181.0 640.0 176.9C671.7 173.0 703.3 170.4 735.0 170.0C766.7 169.6 798.3 171.4 830.0 172.7L830.0 175.8C798.3 174.5 766.7 172.8 735.0 173.3C703.3 173.8 671.7 176.4 640.0 180.4C606.7 184.6 573.3 190.2 540.0 198.6C506.7 207.1 473.3 218.5 440.0 229.1C406.7 239.7 373.3 249.7 340.0 268.3Z" fill="#e3686a"/>
<path d="M340.0 266.8C373.3 248.0 406.7 238.1 440.0 227.5C473.3 216.9 506.7 205.7 540.0 197.2C573.3 188.8 606.7 183.2 640.0 179.1C671.7 175.1 703.3 172.5 735.0 172.0C766.7 171.6 798.3 173.4 830.0 174.7L830.0 177.8C798.3 176.5 766.7 174.9 735.0 175.4C703.3 175.9 671.7 178.5 640.0 182.6C606.7 186.8 573.3 192.5 540.0 201.0C506.7 209.6 473.3 221.0 440.0 231.7C406.7 242.4 373.3 252.5 340.0 270.9Z" fill="#e66b6d"/>
<path d="M340.0 269.4C373.3 250.8 406.7 240.8 440.0 230.1C473.3 219.5 506.7 208.1 540.0 199.6C573.3 191.1 606.7 185.4 640.0 181.3C671.7 177.3 703.3 174.6 735.0 174.1C766.7 173.6 798.3 175.3 830.0 176.6L830.0 179.8C798.3 178.5 766.7 176.9 735.0 177.4C703.3 178.0 671.7 180.7 640.0 184.7C606.7 189.0 573.3 194.7 540.0 203.4C506.7 212.0 473.3 223.5 440.0 234.3C406.7 245.2 373.3 255.3 340.0 273.4Z" fill="#e86f70"/>
<path d="M340.0 271.9C373.3 253.6 406.7 243.5 440.0 232.8C473.3 222.0 506.7 210.5 540.0 202.0C573.3 193.4 606.7 187.7 640.0 183.4C671.7 179.4 703.3 176.7 735.0 176.2C766.7 175.7 798.3 177.3 830.0 178.6L830.0 181.8C798.3 180.5 766.7 178.9 735.0 179.5C703.3 180.1 671.7 182.8 640.0 186.9C606.7 191.2 573.3 197.0 540.0 205.7C506.7 214.4 473.3 226.0 440.0 236.9C406.7 247.9 373.3 258.1 340.0 276.0Z" fill="#eb7373"/>
<path d="M340.0 274.5C373.3 256.4 406.7 246.2 440.0 235.4C473.3 224.5 506.7 213.0 540.0 204.3C573.3 195.7 606.7 189.9 640.0 185.6C671.7 181.5 703.3 178.8 735.0 178.3C766.7 177.7 798.3 179.3 830.0 180.6L830.0 183.7C798.3 182.5 766.7 181.0 735.0 181.6C703.3 182.2 671.7 184.9 640.0 189.1C606.7 193.4 573.3 199.3 540.0 208.1C506.7 216.9 473.3 228.5 440.0 239.5C406.7 250.6 373.3 260.9 340.0 278.5Z" fill="#ed7676"/>
<path d="M340.0 277.0C373.3 259.2 406.7 248.9 440.0 238.0C473.3 227.0 506.7 215.4 540.0 206.7C573.3 197.9 606.7 192.1 640.0 187.8C671.7 183.7 703.3 180.9 735.0 180.3C766.7 179.8 798.3 181.3 830.0 182.6L830.0 185.7C798.3 184.5 766.7 183.0 735.0 183.7C703.3 184.3 671.7 187.1 640.0 191.2C606.7 195.6 573.3 201.6 540.0 210.4C506.7 219.3 473.3 231.0 440.0 242.2C406.7 253.3 373.3 263.7 340.0 281.1Z" fill="#f07a79"/>
<path d="M340.0 279.6C373.3 262.1 406.7 251.6 440.0 240.6C473.3 229.5 506.7 217.8 540.0 209.0C573.3 200.2 606.7 194.3 640.0 189.9C671.7 185.8 703.3 183.0 735.0 182.4C766.7 181.8 798.3 183.3 830.0 184.5L830.0 187.7C798.3 186.5 766.7 185.1 735.0 185.7C703.3 186.4 671.7 189.2 640.0 193.4C606.7 197.8 573.3 203.9 540.0 212.8C506.7 221.7 473.3 233.6 440.0 244.8C406.7 256.0 373.3 266.6 340.0 283.6Z" fill="#f07b7a"/>
<path d="M340.0 282.1C373.3 264.9 406.7 254.3 440.0 243.2C473.3 232.0 506.7 220.3 540.0 211.4C573.3 202.5 606.7 196.5 640.0 192.1C671.7 187.9 703.3 185.2 735.0 184.5C766.7 183.8 798.3 185.3 830.0 186.5L830.0 189.7C798.3 188.5 766.7 187.1 735.0 187.8C703.3 188.5 671.7 191.3 640.0 195.6C606.7 200.1 573.3 206.1 540.0 215.2C506.7 224.2 473.3 236.1 440.0 247.4C406.7 258.7 373.3 269.4 340.0 286.2Z" fill="#f17d7c"/>
<path d="M340.0 284.7C373.3 267.7 406.7 257.1 440.0 245.8C473.3 234.6 506.7 222.7 540.0 213.7C573.3 204.8 606.7 198.7 640.0 194.3C671.7 190.0 703.3 187.3 735.0 186.6C766.7 185.9 798.3 187.3 830.0 188.5L830.0 191.6C798.3 190.5 766.7 189.2 735.0 189.9C703.3 190.6 671.7 193.5 640.0 197.7C606.7 202.3 573.3 208.4 540.0 217.5C506.7 226.6 473.3 238.6 440.0 250.0C406.7 261.4 373.3 272.2 340.0 288.7Z" fill="#f17e7d"/>
<path d="M340.0 287.2C373.3 270.5 406.7 259.8 440.0 248.4C473.3 237.1 506.7 225.1 540.0 216.1C573.3 207.1 606.7 200.9 640.0 196.4C671.7 192.2 703.3 189.4 735.0 188.7C766.7 187.9 798.3 189.3 830.0 190.5L830.0 193.6C798.3 192.5 766.7 191.2 735.0 192.0C703.3 192.8 671.7 195.6 640.0 199.9C606.7 204.5 573.3 210.7 540.0 219.9C506.7 229.0 473.3 241.1 440.0 252.6C406.7 264.1 373.3 275.0 340.0 291.3Z" fill="#f27f7e"/>
<path d="M340.0 289.8C373.3 273.3 406.7 262.5 440.0 251.0C473.3 239.6 506.7 227.6 540.0 218.5C573.3 209.3 606.7 203.2 640.0 198.6C671.7 194.3 703.3 191.5 735.0 190.7C766.7 190.0 798.3 191.3 830.0 192.4L830.0 195.6C798.3 194.5 766.7 193.2 735.0 194.1C703.3 194.9 671.7 197.7 640.0 202.1C606.7 206.7 573.3 213.0 540.0 222.2C506.7 231.5 473.3 243.6 440.0 255.2C406.7 266.8 373.3 277.8 340.0 293.8Z" fill="#f28180"/>
<path d="M340.0 292.3C373.3 276.1 406.7 265.2 440.0 253.6C473.3 242.1 506.7 230.0 540.0 220.8C573.3 211.6 606.7 205.4 640.0 200.8C671.7 196.4 703.3 193.6 735.0 192.8C766.7 192.0 798.3 193.3 830.0 194.4L830.0 197.6C798.3 196.4 766.7 195.3 735.0 196.1C703.3 197.0 671.7 199.8 640.0 204.3C606.7 208.9 573.3 215.3 540.0 224.6C506.7 233.9 473.3 246.1 440.0 257.8C406.7 269.5 373.3 280.6 340.0 296.4Z" fill="#f07e7e"/>
<path d="M340.0 294.9C373.3 278.9 406.7 267.9 440.0 256.3C473.3 244.6 506.7 232.4 540.0 223.2C573.3 213.9 606.7 207.6 640.0 203.0C671.7 198.6 703.3 195.7 735.0 194.9C766.7 194.1 798.3 195.3 830.0 196.4L830.0 199.5C798.3 198.4 766.7 197.3 735.0 198.2C703.3 199.1 671.7 202.0 640.0 206.4C606.7 211.1 573.3 217.6 540.0 226.9C506.7 236.3 473.3 248.7 440.0 260.4C406.7 272.2 373.3 283.4 340.0 298.9Z" fill="#ee7b7b"/>
<path d="M340.0 297.4C373.3 281.7 406.7 270.6 440.0 258.9C473.3 247.1 506.7 234.9 540.0 225.5C573.3 216.2 606.7 209.8 640.0 205.1C671.7 200.7 703.3 197.8 735.0 197.0C766.7 196.1 798.3 197.2 830.0 198.4L830.0 201.5C798.3 200.4 766.7 199.4 735.0 200.3C703.3 201.2 671.7 204.1 640.0 208.6C606.7 213.3 573.3 219.8 540.0 229.3C506.7 238.8 473.3 251.2 440.0 263.0C406.7 274.9 373.3 286.2 340.0 301.5Z" fill="#ec7879"/>
<path d="M340.0 300.0C373.3 284.6 406.7 273.3 440.0 261.5C473.3 249.7 506.7 237.3 540.0 227.9C573.3 218.5 606.7 212.0 640.0 207.3C671.7 202.8 703.3 199.9 735.0 199.0C766.7 198.1 798.3 199.2 830.0 200.3L830.0 203.5C798.3 202.4 766.7 201.4 735.0 202.4C703.3 203.3 671.7 206.2 640.0 210.8C606.7 215.5 573.3 222.1 540.0 231.7C506.7 241.2 473.3 253.7 440.0 265.6C406.7 277.6 373.3 289.1 340.0 304.0Z" fill="#ea7576"/>
<path d="M340.0 302.5C373.3 287.4 406.7 276.0 440.0 264.1C473.3 252.2 506.7 239.7 540.0 230.2C573.3 220.8 606.7 214.2 640.0 209.5C671.7 205.0 703.3 202.0 735.0 201.1C766.7 200.2 798.3 201.2 830.0 202.3L830.0 205.5C798.3 204.4 766.7 203.4 735.0 204.4C703.3 205.4 671.7 208.4 640.0 212.9C606.7 217.8 573.3 224.4 540.0 234.0C506.7 243.6 473.3 256.2 440.0 268.3C406.7 280.3 373.3 291.9 340.0 306.6Z" fill="#e87273"/>
<path d="M340.0 305.1C373.3 290.2 406.7 278.7 440.0 266.7C473.3 254.7 506.7 242.2 540.0 232.6C573.3 223.0 606.7 216.4 640.0 211.6C671.7 207.1 703.3 204.2 735.0 203.2C766.7 202.2 798.3 203.2 830.0 204.3L830.0 207.4C798.3 206.4 766.7 205.5 735.0 206.5C703.3 207.5 671.7 210.5 640.0 215.1C606.7 220.0 573.3 226.7 540.0 236.4C506.7 246.1 473.3 258.7 440.0 270.9C406.7 283.0 373.3 294.7 340.0 309.1Z" fill="#e46e6f"/>
<path d="M340.0 307.6C373.3 293.0 406.7 281.4 440.0 269.3C473.3 257.2 506.7 244.6 540.0 235.0C573.3 225.3 606.7 218.6 640.0 213.8C671.7 209.2 703.3 206.3 735.0 205.3C766.7 204.3 798.3 205.2 830.0 206.3L830.0 209.4C798.3 208.4 766.7 207.5 735.0 208.6C703.3 209.6 671.7 212.6 640.0 217.3C606.7 222.2 573.3 229.0 540.0 238.7C506.7 248.5 473.3 261.2 440.0 273.5C406.7 285.7 373.3 297.5 340.0 311.7Z" fill="#df696b"/>
<path d="M340.0 310.2C373.3 295.8 406.7 284.1 440.0 271.9C473.3 259.7 506.7 247.0 540.0 237.3C573.3 227.6 606.7 220.9 640.0 216.0C671.7 211.3 703.3 208.4 735.0 207.3C766.7 206.3 798.3 207.2 830.0 208.2L830.0 211.4C798.3 210.4 766.7 209.6 735.0 210.7C703.3 211.8 671.7 214.7 640.0 219.5C606.7 224.4 573.3 231.2 540.0 241.1C506.7 250.9 473.3 263.7 440.0 276.1C406.7 288.4 373.3 300.3 340.0 314.2Z" fill="#db6366"/>
<path d="M340.0 312.7C373.3 298.6 406.7 286.8 440.0 274.5C473.3 262.2 506.7 249.5 540.0 239.7C573.3 229.9 606.7 223.1 640.0 218.1C671.7 213.5 703.3 210.5 735.0 209.4C766.7 208.3 798.3 209.2 830.0 210.2L830.0 213.4C798.3 212.4 766.7 211.6 735.0 212.7C703.3 213.9 671.7 216.9 640.0 221.6C606.7 226.6 573.3 233.5 540.0 243.4C506.7 253.4 473.3 266.3 440.0 278.7C406.7 291.1 373.3 303.1 340.0 316.8Z" fill="#d65e62"/>
<path d="M340.0 315.3C373.3 301.4 406.7 289.5 440.0 277.1C473.3 264.8 506.7 251.9 540.0 242.0C573.3 232.2 606.7 225.3 640.0 220.3C671.7 215.6 703.3 212.6 735.0 211.5C766.7 210.4 798.3 211.2 830.0 212.2L830.0 215.3C798.3 214.4 766.7 213.7 735.0 214.8C703.3 216.0 671.7 219.0 640.0 223.8C606.7 228.8 573.3 235.8 540.0 245.8C506.7 255.8 473.3 268.8 440.0 281.3C406.7 293.8 373.3 305.9 340.0 319.3Z" fill="#ce565a"/>
<path d="M340.0 317.8C373.3 304.2 406.7 292.2 440.0 279.7C473.3 267.3 506.7 254.3 540.0 244.4C573.3 234.4 606.7 227.5 640.0 222.5C671.7 217.7 703.3 214.7 735.0 213.6C766.7 212.4 798.3 213.2 830.0 214.2L830.0 217.3C798.3 216.4 766.7 215.7 735.0 216.9C703.3 218.1 671.7 221.1 640.0 226.0C606.7 231.0 573.3 238.1 540.0 248.2C506.7 258.2 473.3 271.3 440.0 283.9C406.7 296.6 373.3 308.7 340.0 321.9Z" fill="#c44a4f"/>
<path d="M340.0 320.4C373.3 307.0 406.7 294.9 440.0 282.4C473.3 269.8 506.7 256.8 540.0 246.7C573.3 236.7 606.7 229.7 640.0 224.7C671.7 219.9 703.3 216.8 735.0 215.6C766.7 214.5 798.3 215.2 830.0 216.1L830.0 219.3C798.3 218.3 766.7 217.7 735.0 219.0C703.3 220.2 671.7 223.3 640.0 228.1C606.7 233.3 573.3 240.4 540.0 250.5C506.7 260.7 473.3 273.8 440.0 286.5C406.7 299.3 373.3 311.5 340.0 324.4Z" fill="#ba3e45"/>
<path d="M340.0 322.9C373.3 309.9 406.7 297.6 440.0 285.0C473.3 272.3 506.7 259.2 540.0 249.1C573.3 239.0 606.7 231.9 640.0 226.8C671.7 222.0 703.3 218.9 735.0 217.7C766.7 216.5 798.3 217.2 830.0 218.1L830.0 221.3C798.3 220.3 766.7 219.8 735.0 221.0C703.3 222.3 671.7 225.4 640.0 230.3C606.7 235.5 573.3 242.7 540.0 252.9C506.7 263.1 473.3 276.3 440.0 289.1C406.7 302.0 373.3 314.4 340.0 327.0Z" fill="#ad3239"/>
<path d="M340.0 325.5C373.3 312.7 406.7 300.3 440.0 287.6C473.3 274.8 506.7 261.6 540.0 251.5C573.3 241.3 606.7 234.1 640.0 229.0C671.7 224.1 703.3 221.0 735.0 219.8C766.7 218.6 798.3 219.1 830.0 220.1L830.0 222.0C798.3 221.1 766.7 220.6 735.0 221.9C703.3 223.2 671.7 226.2 640.0 231.2C606.7 236.4 573.3 243.6 540.0 253.8C506.7 264.1 473.3 277.3 440.0 290.2C406.7 303.0 373.3 315.5 340.0 328.0Z" fill="#a0262e"/>
<ellipse cx="455" cy="255" rx="100" ry="32" transform="rotate(-23 455 255)" fill="url(#gLumHi)"/>
<rect x="590" y="100" width="150" height="180" fill="url(#gTun)"/>
<rect x="360" y="190" width="100" height="130" fill="url(#gEndSh)"/>
<!--RBC-START-->
<defs>
<radialGradient id="gR1" cx="0.38" cy="0.32" r="0.75"><stop offset="0" stop-color="#ff2f3e"/><stop offset="0.45" stop-color="#ee1521"/><stop offset="0.8" stop-color="#d60f1a"/><stop offset="1" stop-color="#b30b14"/></radialGradient>
<radialGradient id="gR2" cx="0.4" cy="0.35" r="0.75"><stop offset="0" stop-color="#d0101a"/><stop offset="0.7" stop-color="#b40c15"/><stop offset="1" stop-color="#8e0810"/></radialGradient>
<radialGradient id="gR3" cx="0.5" cy="0.55" r="0.6"><stop offset="0" stop-color="#a40a13"/><stop offset="0.7" stop-color="#bd0d17"/><stop offset="1" stop-color="#d8111c"/></radialGradient>
<radialGradient id="gR4" cx="0.5" cy="0.5" r="0.55"><stop offset="0" stop-color="#c60e18"/><stop offset="0.75" stop-color="#d5101b"/><stop offset="1" stop-color="#e6141f" stop-opacity="0"/></radialGradient>
<radialGradient id="gR5" cx="0.4" cy="0.3" r="0.8"><stop offset="0" stop-color="#c20d17"/><stop offset="0.6" stop-color="#a20a12"/><stop offset="1" stop-color="#6e050b"/></radialGradient>
<radialGradient id="gR6" cx="0.5" cy="0.55" r="0.6"><stop offset="0" stop-color="#8c0810"/><stop offset="0.7" stop-color="#b00c15"/><stop offset="1" stop-color="#d4101b"/></radialGradient>
<filter id="fSh" x="-50%" y="-50%" width="200%" height="200%"><feGaussianBlur stdDeviation="2.2"/></filter>
</defs>
<g transform="translate(713 158) rotate(20)"><ellipse rx="7" ry="8.5" fill="url(#gR1)"/></g>
<ellipse cx="711" cy="174.5" rx="12.5" ry="10.5" transform="rotate(15 711 174.5)" fill="#a30a12"/><g transform="translate(711 172.5) rotate(15)"><ellipse rx="12.5" ry="10.5" fill="url(#gR5)"/></g>
<ellipse cx="713" cy="187" rx="11" ry="8" fill="#2e0709" opacity="0.75" filter="url(#fSh)"/>
<g transform="translate(716.5 201.5) rotate(-10)"><ellipse rx="8" ry="13" fill="url(#gR5)"/></g>
<g transform="translate(672.6 164) rotate(-5)"><ellipse rx="4.2" ry="8.5" fill="url(#gR1)"/><path d="M-3.6 -3.2A3.9 7.9 0 0 1 1.1 -7.7" fill="none" stroke="#ff6b74" stroke-width="1.1" stroke-linecap="round" opacity="0.75"/></g>
<g transform="translate(692 171.5) rotate(0)"><ellipse rx="14.5" ry="13.5" fill="url(#gR1)"/><ellipse cx="-3" cy="1" rx="9" ry="8" fill="url(#gR4)"/><path d="M-12.5 -5.1A13.5 12.6 0 0 1 3.6 -12.2" fill="none" stroke="#ff6b74" stroke-width="1.1" stroke-linecap="round" opacity="0.75"/></g>
<g transform="translate(672 180) rotate(10)"><ellipse rx="10" ry="13" fill="url(#gR1)"/></g>
<g transform="translate(682.5 188.5) rotate(-10)"><ellipse rx="10.5" ry="12" fill="url(#gR5)"/></g>
<ellipse cx="651.54" cy="174.3" rx="16.3" ry="9.8" transform="rotate(12 651.54 174.3)" fill="#a30a12"/><g transform="translate(651 172.5) rotate(12)"><ellipse rx="16.3" ry="9.8" fill="url(#gR1)"/><ellipse cx="1" cy="1.6" rx="10.5" ry="5.2" fill="url(#gR6)"/><path d="M-14.0 -3.7A15.2 9.1 0 0 1 4.1 -8.8" fill="none" stroke="#ff6b74" stroke-width="1.1" stroke-linecap="round" opacity="0.75"/></g>
<ellipse cx="702.8" cy="199.75" rx="10.5" ry="15.5" transform="rotate(-22 702.8 199.75)" fill="#a30a12"/><g transform="translate(701.3 199.3) rotate(-22)"><ellipse rx="10.5" ry="15.5" fill="url(#gR1)"/><path d="M-9.0 -5.9A9.8 14.4 0 0 1 2.6 -14.0" fill="none" stroke="#ff6b74" stroke-width="1.1" stroke-linecap="round" opacity="0.75"/></g>
<ellipse cx="640.3" cy="188.3" rx="18" ry="11" transform="rotate(18 640.3 188.3)" fill="#a30a12"/><g transform="translate(640.3 187) rotate(18)"><ellipse rx="18" ry="11" fill="url(#gR1)"/><ellipse cx="1" cy="0.5" rx="10" ry="5.5" fill="url(#gR4)"/><path d="M-15.5 -4.2A16.7 10.2 0 0 1 4.5 -9.9" fill="none" stroke="#ff6b74" stroke-width="1.1" stroke-linecap="round" opacity="0.75"/></g>
<g transform="translate(671.3 206) rotate(0)"><ellipse rx="14.8" ry="16" fill="url(#gR1)"/><path d="M-12.7 -6.1A13.8 14.9 0 0 1 3.7 -14.4" fill="none" stroke="#ff6b74" stroke-width="1.1" stroke-linecap="round" opacity="0.75"/></g>
<ellipse cx="614.5" cy="214.1" rx="16.3" ry="15.2" transform="rotate(0 614.5 214.1)" fill="#5a0a10" opacity="0.25" filter="url(#fSh)"/><g transform="translate(612.5 211.1) rotate(0)"><ellipse rx="16.3" ry="15.2" fill="url(#gR1)"/><path d="M-14.0 -5.8A15.2 14.1 0 0 1 4.1 -13.7" fill="none" stroke="#ff6b74" stroke-width="1.1" stroke-linecap="round" opacity="0.75"/></g>
<ellipse cx="578.4" cy="189.4" rx="17.3" ry="10.6" transform="rotate(27 578.4 189.4)" fill="#5a0a10" opacity="0.3" filter="url(#fSh)"/><ellipse cx="576.8" cy="187.4" rx="17.3" ry="10.6" transform="rotate(27 576.8 187.4)" fill="#a30a12"/><g transform="translate(576.4 185.4) rotate(27)"><ellipse rx="17.3" ry="10.6" fill="url(#gR1)"/><ellipse cx="1.5" cy="1.3" rx="10.5" ry="5.2" fill="url(#gR3)"/><path d="M-14.9 -4.0A16.1 9.9 0 0 1 4.3 -9.5" fill="none" stroke="#ff6b74" stroke-width="1.1" stroke-linecap="round" opacity="0.75"/></g>
<ellipse cx="560.1" cy="223.7" rx="18.3" ry="10.6" transform="rotate(-19 560.1 223.7)" fill="#5a0a10" opacity="0.25" filter="url(#fSh)"/><ellipse cx="558.34" cy="220.89999999999998" rx="18.3" ry="10.6" transform="rotate(-19 558.34 220.89999999999998)" fill="#a30a12"/><g transform="translate(558.1 219.7) rotate(-19)"><ellipse rx="18.3" ry="10.6" fill="url(#gR1)"/><ellipse cx="0" cy="0.5" rx="10" ry="5" fill="url(#gR4)"/><path d="M-15.7 -4.0A17.0 9.9 0 0 1 4.6 -9.5" fill="none" stroke="#ff6b74" stroke-width="1.1" stroke-linecap="round" opacity="0.75"/></g>
<ellipse cx="510.4" cy="205.6" rx="4.6" ry="17" transform="rotate(-10 510.4 205.6)" fill="#5a0a10" opacity="0.35" filter="url(#fSh)"/><g transform="translate(513.4 204.6) rotate(-10)"><ellipse rx="4.6" ry="17" fill="url(#gR1)"/><path d="M-4.0 -6.5A4.3 15.8 0 0 1 1.1 -15.3" fill="none" stroke="#ff6b74" stroke-width="1.1" stroke-linecap="round" opacity="0.75"/></g>
<ellipse cx="491.7" cy="241.6" rx="10.6" ry="16.6" transform="rotate(12 491.7 241.6)" fill="#5a0a10" opacity="0.25" filter="url(#fSh)"/><g transform="translate(489.7 238.6) rotate(12)"><ellipse rx="10.6" ry="16.6" fill="url(#gR1)"/><ellipse cx="-1.2" cy="0.8" rx="5" ry="8.5" fill="url(#gR3)"/><path d="M-9.1 -6.3A9.9 15.4 0 0 1 2.6 -14.9" fill="none" stroke="#ff6b74" stroke-width="1.1" stroke-linecap="round" opacity="0.75"/></g>
<!--RBC-END-->
</g></g>
<path d="M711.0 129.2C731.5 159.5 743.8 204.4 726.2 238.6" fill="none" stroke="#7e060c" stroke-width="1.3" opacity="0.85"/>
<line x1="346" y1="214.5" x2="491.5" y2="236" stroke="#e9e2d3" stroke-width="5.8" stroke-linecap="round"/>
<!--VESSEL-END-->

<!-- HEMOGLOBIN -->
<!--HEMO-START-->
<defs>
<g id="hu"><path d="M116.9 196.7C120.7 197.3 124.8 197.2 128.8 196.9C132.8 196.6 137.5 195.5 140.7 194.6C143.9 193.7 144.7 193.3 148.0 191.3C151.3 189.3 156.5 185.4 160.4 182.5C164.3 179.6 168.1 176.7 171.2 174.0C174.3 171.3 176.7 168.8 178.8 166.5C180.9 164.2 182.7 162.3 183.8 160.0" class="o" stroke-linecap="butt"/><path d="M116.9 196.7C120.7 197.3 124.8 197.2 128.8 196.9C132.8 196.6 137.5 195.5 140.7 194.6C143.9 193.7 144.7 193.3 148.0 191.3C151.3 189.3 156.5 185.4 160.4 182.5C164.3 179.6 168.1 176.7 171.2 174.0C174.3 171.3 176.7 168.8 178.8 166.5C180.9 164.2 182.7 162.3 183.8 160.0" class="b" stroke-linecap="butt"/><path d="M116.9 196.7C120.7 197.3 124.8 197.2 128.8 196.9C132.8 196.6 137.5 195.5 140.7 194.6C143.9 193.7 144.7 193.3 148.0 191.3C151.3 189.3 156.5 185.4 160.4 182.5C164.3 179.6 168.1 176.7 171.2 174.0C174.3 171.3 176.7 168.8 178.8 166.5C180.9 164.2 182.7 162.3 183.8 160.0" class="h" stroke-linecap="butt"/>
<path d="M187.2 208.6C185.5 209.6 184.7 210.9 182.0 211.6C179.3 212.3 175.2 213.2 171.2 212.9C167.2 212.6 161.6 211.3 158.2 209.7C154.8 208.1 152.5 206.1 150.7 203.2C148.9 200.3 147.6 196.0 147.4 192.4C147.2 188.8 148.2 184.7 149.6 181.6C151.0 178.5 153.4 176.3 156.1 174.0C158.8 171.7 162.6 169.6 165.8 167.6C169.0 165.6 173.0 164.0 175.5 162.2C178.0 160.3 179.5 158.5 181.0 156.5C182.5 154.5 183.5 152.2 184.3 150.0C185.1 147.8 185.7 145.2 185.8 143.0C185.9 140.8 185.3 139.0 185.0 137.0" class="o" stroke-linecap="round"/><path d="M187.2 208.6C185.5 209.6 184.7 210.9 182.0 211.6C179.3 212.3 175.2 213.2 171.2 212.9C167.2 212.6 161.6 211.3 158.2 209.7C154.8 208.1 152.5 206.1 150.7 203.2C148.9 200.3 147.6 196.0 147.4 192.4C147.2 188.8 148.2 184.7 149.6 181.6C151.0 178.5 153.4 176.3 156.1 174.0C158.8 171.7 162.6 169.6 165.8 167.6C169.0 165.6 173.0 164.0 175.5 162.2C178.0 160.3 179.5 158.5 181.0 156.5C182.5 154.5 183.5 152.2 184.3 150.0C185.1 147.8 185.7 145.2 185.8 143.0C185.9 140.8 185.3 139.0 185.0 137.0" class="b" stroke-linecap="round"/><path d="M187.2 208.6C185.5 209.6 184.7 210.9 182.0 211.6C179.3 212.3 175.2 213.2 171.2 212.9C167.2 212.6 161.6 211.3 158.2 209.7C154.8 208.1 152.5 206.1 150.7 203.2C148.9 200.3 147.6 196.0 147.4 192.4C147.2 188.8 148.2 184.7 149.6 181.6C151.0 178.5 153.4 176.3 156.1 174.0C158.8 171.7 162.6 169.6 165.8 167.6C169.0 165.6 173.0 164.0 175.5 162.2C178.0 160.3 179.5 158.5 181.0 156.5C182.5 154.5 183.5 152.2 184.3 150.0C185.1 147.8 185.7 145.2 185.8 143.0C185.9 140.8 185.3 139.0 185.0 137.0" class="h" stroke-linecap="round"/>
<path d="M188.0 160.0C188.7 163.6 190.1 167.2 190.1 170.8C190.1 174.4 189.3 178.0 188.0 181.6C186.7 185.2 184.4 189.0 182.0 192.4C179.6 195.8 176.6 199.2 173.4 202.1C170.2 205.0 166.6 207.3 162.6 209.7C158.6 212.0 153.9 214.2 149.6 216.2C145.3 218.2 140.2 220.2 136.6 221.6C133.0 222.9 130.9 223.6 128.0 224.3C125.1 225.0 122.7 225.8 119.0 225.7C115.3 225.6 109.9 224.9 106.1 223.7C102.3 222.5 98.8 220.5 96.4 218.3C94.0 216.2 92.4 213.7 91.5 210.8C90.6 207.9 90.5 203.9 91.0 201.0C91.5 198.1 92.4 195.6 94.2 193.5C96.0 191.4 98.6 189.9 101.8 188.3C105.0 186.7 110.0 185.3 113.6 183.8C117.2 182.3 120.3 181.0 123.4 179.4C126.5 177.8 129.6 175.7 132.0 174.5C134.4 173.3 136.0 173.2 138.0 172.5" class="o" stroke-linecap="round"/><path d="M188.0 160.0C188.7 163.6 190.1 167.2 190.1 170.8C190.1 174.4 189.3 178.0 188.0 181.6C186.7 185.2 184.4 189.0 182.0 192.4C179.6 195.8 176.6 199.2 173.4 202.1C170.2 205.0 166.6 207.3 162.6 209.7C158.6 212.0 153.9 214.2 149.6 216.2C145.3 218.2 140.2 220.2 136.6 221.6C133.0 222.9 130.9 223.6 128.0 224.3C125.1 225.0 122.7 225.8 119.0 225.7C115.3 225.6 109.9 224.9 106.1 223.7C102.3 222.5 98.8 220.5 96.4 218.3C94.0 216.2 92.4 213.7 91.5 210.8C90.6 207.9 90.5 203.9 91.0 201.0C91.5 198.1 92.4 195.6 94.2 193.5C96.0 191.4 98.6 189.9 101.8 188.3C105.0 186.7 110.0 185.3 113.6 183.8C117.2 182.3 120.3 181.0 123.4 179.4C126.5 177.8 129.6 175.7 132.0 174.5C134.4 173.3 136.0 173.2 138.0 172.5" class="b" stroke-linecap="round"/><path d="M188.0 160.0C188.7 163.6 190.1 167.2 190.1 170.8C190.1 174.4 189.3 178.0 188.0 181.6C186.7 185.2 184.4 189.0 182.0 192.4C179.6 195.8 176.6 199.2 173.4 202.1C170.2 205.0 166.6 207.3 162.6 209.7C158.6 212.0 153.9 214.2 149.6 216.2C145.3 218.2 140.2 220.2 136.6 221.6C133.0 222.9 130.9 223.6 128.0 224.3C125.1 225.0 122.7 225.8 119.0 225.7C115.3 225.6 109.9 224.9 106.1 223.7C102.3 222.5 98.8 220.5 96.4 218.3C94.0 216.2 92.4 213.7 91.5 210.8C90.6 207.9 90.5 203.9 91.0 201.0C91.5 198.1 92.4 195.6 94.2 193.5C96.0 191.4 98.6 189.9 101.8 188.3C105.0 186.7 110.0 185.3 113.6 183.8C117.2 182.3 120.3 181.0 123.4 179.4C126.5 177.8 129.6 175.7 132.0 174.5C134.4 173.3 136.0 173.2 138.0 172.5" class="h" stroke-linecap="round"/>
<path d="M179.6 165.7C181.3 163.7 182.8 162.0 183.8 160.0C184.9 157.7 185.2 155.6 185.6 152.8C186.0 150.0 186.5 146.5 186.3 143.0C186.1 139.5 185.4 134.7 184.2 132.0C182.9 129.3 181.0 128.0 178.8 126.8C176.6 125.6 173.7 125.3 171.2 125.0C168.7 124.7 166.4 124.8 164.0 124.7" class="o" stroke-linecap="butt"/><path d="M179.2 166.1C181.1 163.9 182.7 162.1 183.8 160.0C184.9 157.7 185.2 155.6 185.6 152.8C186.0 150.0 186.5 146.5 186.3 143.0C186.1 139.5 185.4 134.7 184.2 132.0C182.9 129.3 181.0 128.0 178.8 126.8C176.6 125.6 173.7 125.3 171.2 125.0C168.7 124.7 166.4 124.8 164.0 124.7" class="b" stroke-linecap="butt"/><path d="M178.8 166.5C180.9 164.2 182.7 162.3 183.8 160.0C184.9 157.7 185.2 155.6 185.6 152.8C186.0 150.0 186.5 146.5 186.3 143.0C186.1 139.5 185.4 134.7 184.2 132.0C182.9 129.3 181.0 128.0 178.8 126.8C176.6 125.6 173.7 125.3 171.2 125.0C168.7 124.7 166.4 124.8 164.0 124.7" class="h" stroke-linecap="butt"/>
<path d="M132.5 159.0C133.4 158.0 133.9 157.8 135.3 156.0C136.7 154.2 139.2 150.6 140.7 148.5C142.2 146.4 142.9 145.4 144.5 143.5C146.1 141.6 148.2 139.2 150.0 137.0C151.8 134.8 153.9 132.2 155.5 130.0C157.1 127.8 158.2 125.7 159.5 123.5" class="o" stroke-linecap="butt"/><path d="M132.5 159.0C133.4 158.0 133.9 157.8 135.3 156.0C136.7 154.2 139.2 150.6 140.7 148.5C142.2 146.4 142.9 145.4 144.5 143.5C146.1 141.6 148.2 139.2 150.0 137.0C151.8 134.8 153.9 132.2 155.5 130.0C157.1 127.8 158.2 125.7 159.5 123.5" class="b" stroke-linecap="butt"/><path d="M132.5 159.0C133.4 158.0 133.9 157.8 135.3 156.0C136.7 154.2 139.2 150.6 140.7 148.5C142.2 146.4 142.9 145.4 144.5 143.5C146.1 141.6 148.2 139.2 150.0 137.0C151.8 134.8 153.9 132.2 155.5 130.0C157.1 127.8 158.2 125.7 159.5 123.5" class="h" stroke-linecap="butt"/>
<path d="M151.0 160.5C152.7 157.2 154.4 153.8 156.0 150.5C157.6 147.2 159.3 144.2 160.3 141.0C161.3 137.8 162.0 134.7 162.0 131.5C162.0 128.3 161.5 124.8 160.3 122.0C159.1 119.2 157.2 116.8 155.0 115.0C152.8 113.2 150.1 111.9 147.4 111.3C144.7 110.7 141.9 110.8 138.8 111.2C135.7 111.7 132.2 112.6 129.0 114.0C125.8 115.4 122.3 117.8 119.5 119.8C116.7 121.8 114.0 124.0 112.0 126.3C110.0 128.6 108.5 130.8 107.3 133.5C106.1 136.2 105.3 139.7 105.0 142.5C104.7 145.3 104.8 148.0 105.2 150.6C105.7 153.2 106.3 156.0 107.7 158.2C109.1 160.4 111.3 162.4 113.6 163.6C115.8 164.8 118.7 165.5 121.2 165.3C123.7 165.1 126.6 163.9 128.8 162.5C131.0 161.1 132.6 158.8 134.5 157.0" class="o" stroke-linecap="round"/><path d="M151.0 160.5C152.7 157.2 154.4 153.8 156.0 150.5C157.6 147.2 159.3 144.2 160.3 141.0C161.3 137.8 162.0 134.7 162.0 131.5C162.0 128.3 161.5 124.8 160.3 122.0C159.1 119.2 157.2 116.8 155.0 115.0C152.8 113.2 150.1 111.9 147.4 111.3C144.7 110.7 141.9 110.8 138.8 111.2C135.7 111.7 132.2 112.6 129.0 114.0C125.8 115.4 122.3 117.8 119.5 119.8C116.7 121.8 114.0 124.0 112.0 126.3C110.0 128.6 108.5 130.8 107.3 133.5C106.1 136.2 105.3 139.7 105.0 142.5C104.7 145.3 104.8 148.0 105.2 150.6C105.7 153.2 106.3 156.0 107.7 158.2C109.1 160.4 111.3 162.4 113.6 163.6C115.8 164.8 118.7 165.5 121.2 165.3C123.7 165.1 126.6 163.9 128.8 162.5C131.0 161.1 132.6 158.8 134.5 157.0" class="b" stroke-linecap="round"/><path d="M151.0 160.5C152.7 157.2 154.4 153.8 156.0 150.5C157.6 147.2 159.3 144.2 160.3 141.0C161.3 137.8 162.0 134.7 162.0 131.5C162.0 128.3 161.5 124.8 160.3 122.0C159.1 119.2 157.2 116.8 155.0 115.0C152.8 113.2 150.1 111.9 147.4 111.3C144.7 110.7 141.9 110.8 138.8 111.2C135.7 111.7 132.2 112.6 129.0 114.0C125.8 115.4 122.3 117.8 119.5 119.8C116.7 121.8 114.0 124.0 112.0 126.3C110.0 128.6 108.5 130.8 107.3 133.5C106.1 136.2 105.3 139.7 105.0 142.5C104.7 145.3 104.8 148.0 105.2 150.6C105.7 153.2 106.3 156.0 107.7 158.2C109.1 160.4 111.3 162.4 113.6 163.6C115.8 164.8 118.7 165.5 121.2 165.3C123.7 165.1 126.6 163.9 128.8 162.5C131.0 161.1 132.6 158.8 134.5 157.0" class="h" stroke-linecap="round"/>
<path d="M139.0 172.0C138.8 170.0 138.7 167.8 138.3 166.0C137.9 164.2 137.5 162.8 136.8 161.0C136.1 159.2 135.3 157.0 134.2 154.9C133.0 152.8 131.5 150.7 129.9 148.5C128.3 146.3 126.7 143.9 124.5 142.0C122.3 140.1 119.6 138.1 116.9 136.8C114.2 135.5 111.1 134.6 108.2 134.4C105.3 134.2 102.1 134.6 99.6 135.5C97.1 136.4 94.9 137.8 93.1 139.8C91.3 141.8 89.8 144.7 88.8 147.4C87.8 150.1 87.4 153.1 87.2 156.0C87.0 158.9 87.2 162.3 87.4 165.0C87.6 167.7 87.9 169.8 88.5 172.0C89.1 174.2 89.5 175.9 91.0 178.4C92.5 180.9 94.9 184.5 97.4 187.0C99.9 189.5 102.8 191.9 106.1 193.5C109.3 195.1 113.1 196.1 116.9 196.7C120.4 197.2 124.1 197.2 127.8 197.0" class="o" stroke-linecap="butt"/><path d="M139.0 172.0C138.8 170.0 138.7 167.8 138.3 166.0C137.9 164.2 137.5 162.8 136.8 161.0C136.1 159.2 135.3 157.0 134.2 154.9C133.0 152.8 131.5 150.7 129.9 148.5C128.3 146.3 126.7 143.9 124.5 142.0C122.3 140.1 119.6 138.1 116.9 136.8C114.2 135.5 111.1 134.6 108.2 134.4C105.3 134.2 102.1 134.6 99.6 135.5C97.1 136.4 94.9 137.8 93.1 139.8C91.3 141.8 89.8 144.7 88.8 147.4C87.8 150.1 87.4 153.1 87.2 156.0C87.0 158.9 87.2 162.3 87.4 165.0C87.6 167.7 87.9 169.8 88.5 172.0C89.1 174.2 89.5 175.9 91.0 178.4C92.5 180.9 94.9 184.5 97.4 187.0C99.9 189.5 102.8 191.9 106.1 193.5C109.3 195.1 113.1 196.1 116.9 196.7C120.5 197.2 124.5 197.3 128.3 196.9" class="b" stroke-linecap="butt"/><path d="M139.0 172.0C138.8 170.0 138.7 167.8 138.3 166.0C137.9 164.2 137.5 162.8 136.8 161.0C136.1 159.2 135.3 157.0 134.2 154.9C133.0 152.8 131.5 150.7 129.9 148.5C128.3 146.3 126.7 143.9 124.5 142.0C122.3 140.1 119.6 138.1 116.9 136.8C114.2 135.5 111.1 134.6 108.2 134.4C105.3 134.2 102.1 134.6 99.6 135.5C97.1 136.4 94.9 137.8 93.1 139.8C91.3 141.8 89.8 144.7 88.8 147.4C87.8 150.1 87.4 153.1 87.2 156.0C87.0 158.9 87.2 162.3 87.4 165.0C87.6 167.7 87.9 169.8 88.5 172.0C89.1 174.2 89.5 175.9 91.0 178.4C92.5 180.9 94.9 184.5 97.4 187.0C99.9 189.5 102.8 191.9 106.1 193.5C109.3 195.1 113.1 196.1 116.9 196.7C120.7 197.3 124.8 197.2 128.8 196.9" class="h" stroke-linecap="butt"/></g>
<radialGradient id="gO2" cx="0.45" cy="0.4" r="0.6"><stop offset="0" stop-color="#7db9e6"/><stop offset="0.7" stop-color="#4d98d8"/><stop offset="1" stop-color="#3a86cc"/></radialGradient>
<g id="heme"><circle r="7.4" fill="#e4505b" stroke="#b52a38" stroke-width="1"/><ellipse rx="15.2" ry="4.7" fill="#ead84e" stroke="#a3931c" stroke-width="1.1"/><path d="M-9 -1.2Q0 -4.6 9 -1.2" fill="none" stroke="#f7ee8a" stroke-width="1.4" stroke-linecap="round" opacity="0.9"/><path d="M-7.3 0.9A7.4 7.4 0 0 1 7.3 0.9Q0 3.6 -7.3 0.9Z" fill="#e4505b" stroke="#b52a38" stroke-width="1"/><path d="M-4.4 -3Q-2.6 -5.6 0.8 -5.8" fill="none" stroke="#f4868c" stroke-width="1.5" stroke-linecap="round"/></g>
</defs>
<style>
.o{fill:none;stroke-width:9.6;stroke-linejoin:round;stroke:var(--o)}
.b{fill:none;stroke-width:7.6;stroke-linejoin:round;stroke:var(--b)}
.h{fill:none;stroke-width:2.6;stroke-linejoin:round;stroke:var(--h)}
.red{--o:#b72f3a;--b:#e2474e;--h:#ee6f73}
.org{--o:#c9661f;--b:#f0893f;--h:#f7ac6b}
</style>
<g class="org"><use href="#hu" transform="translate(0.3 433.1) scale(1 -1)"/></g>
<g class="org"><use href="#hu" transform="translate(370.2 0) scale(-1 1)"/></g>
<g class="red"><use href="#hu"/></g>
<g class="red"><use href="#hu" transform="translate(369.4 434.1) scale(-1 -1)"/></g>
<use href="#heme" transform="translate(140 175) rotate(-14)"/>
<use href="#heme" transform="translate(231.7 172.7) rotate(-19)"/>
<use href="#heme" transform="translate(140.9 260.2) rotate(18)"/>
<use href="#heme" transform="translate(226.6 265.3) rotate(-13.6)"/>
<circle cx="145.3" cy="146.3" r="6.6" fill="url(#gO2)"/>
<circle cx="150.1" cy="135.5" r="6.6" fill="url(#gO2)"/>
<circle cx="184.4" cy="133.9" r="6.6" fill="url(#gO2)"/>
<circle cx="190.2" cy="195.4" r="6.6" fill="url(#gO2)"/>
<circle cx="201.3" cy="200.6" r="6.6" fill="url(#gO2)"/>
<circle cx="255.2" cy="239.9" r="6.6" fill="url(#gO2)"/>
<circle cx="261.3" cy="248" r="6.6" fill="url(#gO2)"/>
<circle cx="184.6" cy="284.3" r="6.6" fill="url(#gO2)"/>
<circle cx="184.8" cy="273.6" r="6.6" fill="url(#gO2)"/>
<!--HEMO-END-->

<!-- label lines -->
<g stroke="#333" stroke-width="2" fill="none" stroke-linecap="round">
<line x1="140.6" y1="260.5" x2="71.3" y2="388"/>
<line x1="184.6" y1="284.3" x2="209.3" y2="424"/>
<line x1="612.5" y1="211.5" x2="627.4" y2="294.8"/>
<path d="M290.7 507.65H397M389.3 499.4L397.4 507.65L389.3 515.9" stroke-width="2.1" stroke-linejoin="miter" stroke-linecap="butt"/>
</g>

<!-- oxygen spheres -->
<circle cx="166.9" cy="513.4" r="24.4" fill="url(#gBlue)"/>
<circle cx="215.4" cy="492.6" r="24" fill="url(#gBlue)"/>
<circle cx="252.7" cy="504" r="24" fill="url(#gBlue)"/>

<!-- organ circles -->
<circle cx="464.5" cy="509" r="52.4" fill="#ebe4d9"/>
<circle cx="579.9" cy="509" r="52.4" fill="#ebe4d9"/>
<circle cx="695.4" cy="509" r="52.4" fill="#ebe4d9"/>
<!--ORGANS-START-->
<g transform="translate(420 470) scale(0.12346)" fill="none" stroke="#30373d" stroke-linecap="round" stroke-linejoin="round" stroke-width="17.5">
<path d="M170 405C130 400 100 375 90 340C70 320 65 285 85 255C85 225 110 195 140 185C160 155 200 135 240 130C260 115 300 110 330 118C360 108 410 110 440 125C480 125 520 150 545 180C580 200 610 245 612 290C630 320 625 360 600 385C590 410 570 425 545 425C500 410 430 410 380 425C340 445 290 465 250 445C215 435 190 400 200 365C205 340 230 325 255 325"/>
<path d="M562 430C555 460 520 485 480 485C450 490 420 475 400 450"/>
<path d="M350 460C390 490 420 530 440 575"/>
<path d="M395 455C430 480 455 515 475 555"/>
<path d="M148 272C165 270 178 258 180 242C185 222 205 212 228 215C245 215 258 225 265 240"/>
<path d="M232 268C238 285 240 300 232 318M190 310C200 320 215 325 232 318C250 312 270 315 300 312"/>
<path d="M265 160C272 150 280 142 290 138"/>
<path d="M330 195C345 205 365 200 375 180"/>
<path d="M440 180C455 190 460 210 455 235M455 195C470 200 485 205 495 220"/>
<path d="M355 255C360 270 375 275 395 270C410 268 420 272 428 280M395 270C380 280 360 290 345 295"/>
<path d="M470 310C480 300 488 290 488 275"/>
<path d="M545 245C550 270 545 300 530 320C522 335 515 345 500 352"/>
<path d="M575 335C585 345 595 350 605 352"/>
<path d="M250 415C255 400 260 388 258 378M258 385C285 385 310 380 330 365C350 355 375 360 395 350C410 342 425 345 435 355"/>
<path d="M95 310C105 305 112 300 118 292"/>
</g>
<g transform="translate(540 465) scale(0.13115)" fill="none" stroke="#30373d" stroke-linecap="round" stroke-linejoin="round" stroke-width="16">
<path d="M185 105V187H135M135 222H190V268"/>
<path d="M240 105V250"/>
<path d="M185 470V578M240 518V578"/>
<path d="M232 245C222 200 240 160 272 140L300 124V90"/>
<path d="M330 90V124C352 130 370 145 376 168"/>
<path d="M270 252C252 215 262 182 292 168C308 160 326 170 326 186"/>
<path d="M326 186C350 176 400 170 437 172V200C402 200 372 212 360 240C345 265 340 292 350 316H424"/>
<path d="M192 250C150 280 130 320 135 370C140 430 180 480 240 520C300 560 370 592 420 596C462 590 492 530 490 468C490 400 470 330 430 290C412 268 392 252 366 245"/>
<path d="M160 420C185 390 215 365 250 345C270 330 282 310 286 285C296 250 300 215 298 182"/>
<path d="M385 340C382 400 372 450 356 500M381 400C396 420 410 450 416 490M377 370C356 385 336 405 320 425"/>
<path d="M424 316C420 300 412 286 400 272"/>
</g>
<g transform="translate(655 465) scale(0.13117)" fill="none" stroke="#30373d" stroke-linecap="round" stroke-linejoin="round" stroke-width="16">
<path d="M118 118C140 190 200 245 300 262C305 330 300 400 270 445C250 470 225 485 195 487C175 480 160 470 140 468C125 450 100 438 72 440"/>
<path d="M180 118C200 170 250 205 318 212C340 165 400 140 460 150C530 165 570 230 572 320C570 420 520 520 440 570C370 610 290 615 230 580C215 570 205 555 198 535"/>
<path d="M72 492C90 500 105 510 122 515C130 540 155 565 190 570C205 572 215 575 228 582"/>
<path d="M122 515C125 498 130 485 140 468"/>
<path d="M460 205C500 225 520 265 525 320"/>
</g>
<!--ORGANS-END-->

<!-- text -->
<g id="labels" font-size="22.5" stroke="#333" stroke-width="0.35" opacity="0.999">
<text transform="translate(124.99,87.8) scale(0.7160,1)" font-weight="bold" letter-spacing="4.3">Hämoglobin</text>
<text transform="translate(40.00,411.9) scale(0.7048,1)" letter-spacing="4.8">Eisen</text>
<text transform="translate(160.49,453.05) scale(0.7321,1)" letter-spacing="4.8">Sauerstoff</text>
<text transform="translate(522.48,324.25) scale(0.7176,1)" letter-spacing="4.8">Rote Blutkörperchen</text>
<text transform="translate(500.24,590.5) scale(0.7110,1)" letter-spacing="4.8">Versorgung von</text>
<text transform="translate(488.50,613.75) scale(0.7052,1)" letter-spacing="4.8">Gehirn &amp; Organen</text>
</g>

<!-- logo -->
<!--LOGO-START-->
<g transform="translate(625 20) scale(0.07722)">
<path d="M70 585V96H436V585" fill="none" stroke="#9fb5a5" stroke-width="14"/>
<path d="M64 592C120 568 190 552 252 552C315 552 385 568 442 592L442 578C385 556 315 540 252 540C190 540 120 556 64 578Z" fill="#9fb5a5"/>
<path d="M252 470C180 470 110 430 98 370C88 320 100 280 120 240C125 180 160 125 215 115C240 108 280 108 305 118C360 130 400 180 405 240C420 290 415 340 395 385C370 440 320 470 252 470Z" fill="#9fb5a5"/>
<g fill="none" stroke="#f7f5f1" stroke-width="19" stroke-linecap="round">
<path d="M252 480C252 400 255 300 262 190"/>
<path d="M255 400C225 370 170 350 105 340"/>
<path d="M252 440C215 425 160 410 100 405"/>
<path d="M258 340C240 290 205 240 130 200"/>
<path d="M262 250C250 210 225 165 190 125"/>
<path d="M260 300C285 250 310 190 320 125"/>
<path d="M262 370C300 330 345 290 400 265"/>
<path d="M258 430C300 400 350 370 405 350"/>
<path d="M285 300C320 260 360 220 395 205"/>
<path d="M262 220C290 190 330 160 365 150"/>
<path d="M258 300C230 270 180 255 112 270"/>
<path d="M110 300C100 300 95 305 90 310"/>
</g>
<path d="M232 468C232 510 215 540 185 556L320 556C290 540 272 510 272 468Z" fill="#f7f5f1" stroke="#9fb5a5" stroke-width="10"/>
<path d="M238 455H266V480H238Z" fill="#f7f5f1"/>
</g>
<text opacity="0.999" transform="translate(668,54.6) scale(0.676,1)" font-size="21.2" letter-spacing="3" style="fill:#9fb5a5;stroke:#9fb5a5;stroke-width:0.55">NATURTREU</text>
<!--LOGO-END-->
</svg>
</body>
</html>
